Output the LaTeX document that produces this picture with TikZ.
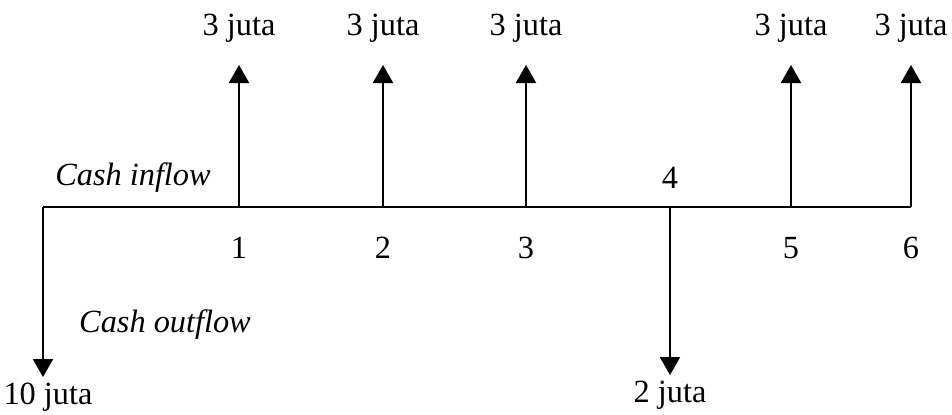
\documentclass[tikz,border=0pt]{standalone}
\usepackage{fontspec}
\setmainfont{Liberation Serif}
\usetikzlibrary{arrows.meta, calc, positioning}

\begin{document}
\begin{tikzpicture}[font=\fontsize{23}{26}\selectfont,
  flow/.style={line width=1.4pt, -{Triangle[length=0.45cm, width=0.5cm]}}]

\useasboundingbox (-1.075,-5.175) rectangle (22.725,5.175);

% time line
\coordinate (t0) at (0,0);
\coordinate (t1) at (4.9,0);
\coordinate (t2) at (8.5,0);
\coordinate (t3) at (12.075,0);
\coordinate (t4) at (15.675,0);
\coordinate (t5) at (18.7,0);
\coordinate (t6) at (21.7,0);
\draw [line width=1.4pt] (t0) -- (t6);

% inflow
\foreach \i in {1,2,3,5,6} {
  \coordinate (up\i) at ($(t\i)+(0,3.55)$);
  \draw [flow] (t\i) -- (up\i);
  \node (in\i) at ($(t\i)+(0,4.475)$) {3 juta};
}

% outflow
\coordinate (down0) at (0,-4.25);
\coordinate (down4) at (15.675,-4.2);
\draw [flow] (t0) -- (down0);
\draw [flow] (t4) -- (down4);
\node (out0) at (0.125,-4.75) {10 juta};
\node (out4) at (15.675,-4.7) {2 juta};

% periods
\foreach \i in {1,2,3,5,6}
  \node (p\i) at ($(t\i)+(0,-1.025)$) {\i};
\node (p4) at ($(t4)+(0,0.725)$) {4};

\node (inflow) at (2.25,0.725) {\textit{Cash inflow}};
\node (outflow) at (3.05,-2.95) {\textit{Cash outflow}};

\end{tikzpicture}
\end{document}
